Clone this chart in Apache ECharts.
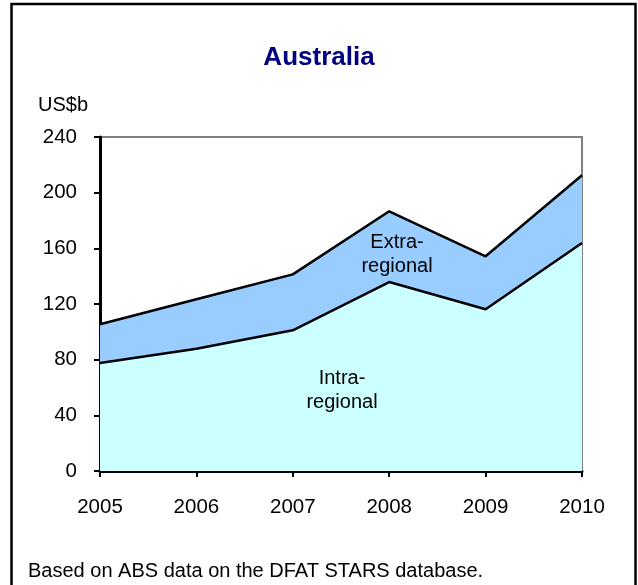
<!DOCTYPE html>
<html><head><meta charset="utf-8">
<script src="https://cdn.jsdelivr.net/npm/echarts@6/dist/echarts.min.js"></script>
<style>html,body{margin:0;padding:0;background:#fff}#c{width:638px;height:585px}</style>
</head><body><div id="c"></div>
<script>
const years = ['2005','2006','2007','2008','2009','2010'];
const intraRegional = [77.6, 87.9, 101.1, 135.8, 116.2, 163.8];
const extraRegional = [27.8, 35.5, 40.2, 50.8, 38.1, 48.7];
const yTicks = [0, 40, 80, 120, 160, 200, 240];

const FONT = '"Liberation Sans", Arial, sans-serif';
const chart = echarts.init(document.getElementById('c'), null, {renderer: 'canvas'});
chart.setOption({
  animation: false,
  backgroundColor: '#fff',
  title: {
    text: 'Australia', left: 'center', top: 40,
    textStyle: {color: '#000080', fontWeight: 'bold', fontSize: 26, fontFamily: FONT}
  },
  grid: {left: 100, right: 56, top: 137, bottom: 114, show: true, borderColor: '#808080', borderWidth: 2, backgroundColor: 'transparent'},
  xAxis: {
    type: 'category', data: years, boundaryGap: false,
    axisLine: {lineStyle: {color: '#000', width: 3}},
    axisTick: {show: true, length: 6, lineStyle: {color: '#000', width: 2}, alignWithLabel: true},
    axisLabel: {color: '#000', fontSize: 20.5, fontFamily: FONT, margin: 26}
  },
  yAxis: {
    type: 'value', min: yTicks[0], max: yTicks[yTicks.length - 1], interval: 40,
    name: 'US$b', nameLocation: 'end', nameGap: 22,
    nameTextStyle: {color: '#000', fontSize: 20, fontFamily: FONT, align: 'left', padding: [0, 0, 0, -62]},
    axisLine: {show: true, lineStyle: {color: '#000', width: 3}},
    axisTick: {show: true, length: 6, lineStyle: {color: '#000', width: 2}},
    splitLine: {show: false},
    axisLabel: {color: '#000', fontSize: 20.5, fontFamily: FONT, margin: 23}
  },
  series: [
    {name: 'Intra-regional', type: 'line', stack: 'total', data: intraRegional,
     symbol: 'none', lineStyle: {color: '#000', width: 2.5},
     areaStyle: {color: '#CCFFFF', opacity: 1}},
    {name: 'Extra-regional', type: 'line', stack: 'total', data: extraRegional,
     symbol: 'none', lineStyle: {color: '#000', width: 2.5},
     areaStyle: {color: '#99CCFF', opacity: 1}}
  ],
  graphic: [
    {type: 'rect', shape: {x: 11.5, y: 4, width: 624, height: 620}, style: {fill: 'none', stroke: '#000', lineWidth: 2.5}, z: 100},
    {type: 'text', x: 397, y: 254, style: {text: 'Extra-\nregional', font: '20px ' + FONT, fill: '#000', align: 'center', verticalAlign: 'middle', lineHeight: 24}, z: 50},
    {type: 'text', x: 342, y: 390, style: {text: 'Intra-\nregional', font: '20px ' + FONT, fill: '#000', align: 'center', verticalAlign: 'middle', lineHeight: 24}, z: 50},
    {type: 'text', left: 28, top: 561, style: {text: 'Based on ABS data on the DFAT STARS database.', font: '20px ' + FONT, fill: '#000'}, z: 50}
  ]
});
</script></body></html>
